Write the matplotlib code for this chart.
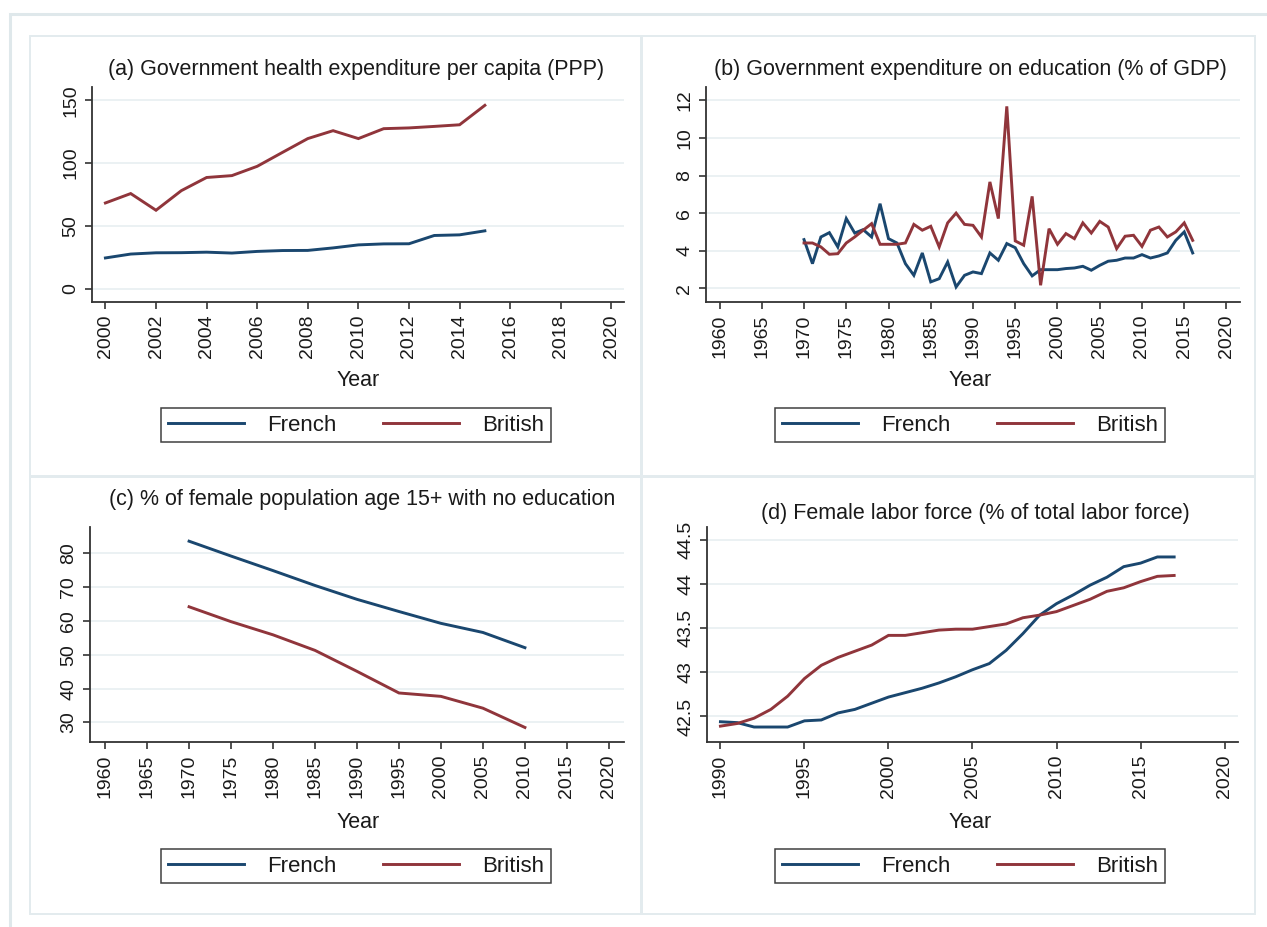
import numpy as np
import matplotlib
matplotlib.use("Agg")
import matplotlib.pyplot as plt
from matplotlib.patches import Rectangle
from matplotlib.ticker import FuncFormatter

plt.rcParams['font.family'] = ['Liberation Sans', 'DejaVu Sans']

# ---- data ----
# (a) Government health expenditure per capita (PPP)
years_a = list(range(2000, 2016))
french_a = [24.4, 27.5, 28.5, 28.6, 29.0, 28.3, 29.6, 30.3, 30.4, 32.4, 34.8, 35.6, 35.7, 42.3, 42.8, 46.0]
british_a = [68.2, 75.7, 62.4, 78.0, 88.5, 90.0, 97.4, 108.5, 119.5, 125.8, 119.5, 127.4, 128.0, 129.2, 130.5, 146.0]

# (b) Government expenditure on education (% of GDP)
years_b = list(range(1970, 2017))
french_b = [4.59, 3.31, 4.73, 4.96, 4.20, 5.71, 4.94, 5.12, 4.73, 6.50,
            4.64, 4.41, 3.31, 2.69, 3.88, 2.34, 2.51, 3.40, 2.07, 2.69,
            2.87, 2.78, 3.88, 3.49, 4.38, 4.16, 3.31, 2.66, 2.99, 2.99,
            2.99, 3.05, 3.08, 3.17, 2.96, 3.22, 3.44, 3.49, 3.61, 3.61,
            3.79, 3.61, 3.72, 3.88, 4.55, 5.00, 3.88]
british_b = [4.41, 4.41, 4.20, 3.81, 3.84, 4.41, 4.73, 5.09, 5.44, 4.34,
             4.34, 4.34, 4.41, 5.40, 5.09, 5.30, 4.20, 5.48, 6.00, 5.40,
             5.35, 4.73, 7.66, 5.71, 11.68, 4.52, 4.29, 6.89, 2.16, 5.17,
             4.34, 4.91, 4.64, 5.48, 4.94, 5.56, 5.26, 4.11, 4.77, 4.82,
             4.23, 5.09, 5.26, 4.73, 5.00, 5.48, 4.55]

# (c) % of female population age 15+ with no education
years_c = [1970, 1975, 1980, 1985, 1990, 1995, 2000, 2005, 2010]
french_c = [83.6, 79.2, 74.9, 70.5, 66.4, 62.8, 59.3, 56.6, 52.1]
british_c = [64.2, 59.8, 55.9, 51.3, 45.1, 38.7, 37.7, 34.2, 28.5]

# (d) Female labor force (% of total labor force)
years_d = list(range(1990, 2018))
french_d = [42.44, 42.43, 42.38, 42.38, 42.38, 42.45, 42.46, 42.54, 42.58, 42.65,
            42.72, 42.77, 42.82, 42.88, 42.95, 43.03, 43.10, 43.25, 43.44, 43.65,
            43.78, 43.88, 43.99, 44.08, 44.20, 44.24, 44.31, 44.31]
british_d = [42.39, 42.42, 42.48, 42.58, 42.73, 42.93, 43.08, 43.17, 43.24, 43.31,
             43.42, 43.42, 43.45, 43.48, 43.49, 43.49, 43.52, 43.55, 43.62, 43.65,
             43.69, 43.76, 43.83, 43.92, 43.96, 44.03, 44.09, 44.10]

titles = ["(a) Government health expenditure per capita (PPP)",
          "(b) Government expenditure on education (% of GDP)",
          "(c) % of female population age 15+ with no education",
          "(d) Female labor force (% of total labor force)"]

NAVY = "#1a476f"
MAROON = "#90353b"
GRID = "#e8eff1"
FRAME = "#e3ebee"
TXT = "#1a1a1a"

W, H = 1267, 927
fig = plt.figure(figsize=(W / 100, H / 100), dpi=100)


def rect(l, r, t, b):
    return [l / W, 1 - b / H, (r - l) / W, (b - t) / H]


# outer + panel frames
fig.patches.append(Rectangle((10 / W, -0.01), 1.0, 1 - 14 / H + 0.01, transform=fig.transFigure,
                             fill=False, ec="#dfe8eb", lw=2.2))
for (l, r, t, b) in [(30, 641, 36, 476), (642, 1255, 36, 476),
                     (30, 641, 477, 914), (642, 1255, 477, 914)]:
    fig.patches.append(Rectangle((l / W, 1 - b / H), (r - l) / W, (b - t) / H,
                                 transform=fig.transFigure, fill=False, ec=FRAME, lw=1.4))

fmt = FuncFormatter(lambda v, p: ("%g" % round(v, 2)))

panels = [
    dict(pos=rect(92, 624, 87, 302), x=years_a, f=french_a, b=british_a,
         xlim=(1999.47, 2020.5), xt=np.arange(2000, 2021, 2),
         ylim=(-10.7, 160.6), yt=[0, 50, 100, 150],
         title=(356, 70), year=(358, 381), leg=(356, 425)),
    dict(pos=rect(706, 1240, 87, 302), x=years_b, f=french_b, b=british_b,
         xlim=(1958.4, 2021.6), xt=np.arange(1960, 2021, 5),
         ylim=(1.27, 12.71), yt=[2, 4, 6, 8, 10, 12],
         title=(970, 70), year=(970, 381), leg=(970, 425)),
    dict(pos=rect(90, 624, 527, 742), x=years_c, f=french_c, b=british_c,
         xlim=(1958.2, 2021.8), xt=np.arange(1960, 2021, 5),
         ylim=(24.2, 87.8), yt=[30, 40, 50, 60, 70, 80],
         title=(362, 500), year=(358, 822), leg=(356, 866)),
    dict(pos=rect(707, 1238, 527, 742), x=years_d, f=french_d, b=british_d,
         xlim=(1989.2, 2020.8), xt=np.arange(1990, 2021, 5),
         ylim=(42.21, 44.65), yt=[42.5, 43, 43.5, 44, 44.5],
         title=(975, 513), year=(970, 822), leg=(970, 866)),
]

for i, p in enumerate(panels):
    ax = fig.add_axes(p["pos"])
    ax.plot(p["x"], p["f"], color=NAVY, lw=2.1, label="French", solid_joinstyle="miter")
    ax.plot(p["x"], p["b"], color=MAROON, lw=2.1, label="British", solid_joinstyle="miter")
    ax.set_xlim(*p["xlim"])
    ax.set_ylim(*p["ylim"])
    ax.set_xticks(p["xt"])
    ax.set_yticks(p["yt"])
    ax.yaxis.set_major_formatter(fmt)
    ax.grid(axis="y", color=GRID, lw=1.2)
    ax.set_axisbelow(True)
    for s in ["top", "right"]:
        ax.spines[s].set_visible(False)
    for s in ["left", "bottom"]:
        ax.spines[s].set_color("#333333")
        ax.spines[s].set_linewidth(1.3)
    ax.tick_params(axis="both", length=5, width=1.2, color="#333333",
                   labelsize=14, labelcolor=TXT, pad=4)
    ax.tick_params(axis="x", labelrotation=90)
    ax.tick_params(axis="y", labelrotation=90)
    for lab in ax.get_yticklabels():
        lab.set_va("center")

    fig.text(p["title"][0] / W, 1 - p["title"][1] / H, titles[i], ha="center", va="center",
             fontsize=15.5, color=TXT)
    fig.text(p["year"][0] / W, 1 - p["year"][1] / H, "Year", ha="center", va="center",
             fontsize=15.5, color=TXT)
    leg = ax.legend(loc="center", bbox_to_anchor=(p["leg"][0] / W, 1 - p["leg"][1] / H),
                    bbox_transform=fig.transFigure, ncol=2, fontsize=16,
                    frameon=True, fancybox=False, edgecolor="#111111",
                    handlelength=3.4, handletextpad=1.05, columnspacing=2.1,
                    borderpad=0.3, borderaxespad=0)
    leg.get_frame().set_linewidth(1.1)
    for t in leg.get_texts():
        t.set_color(TXT)

fig.savefig("out.png", dpi=100, facecolor="white")
